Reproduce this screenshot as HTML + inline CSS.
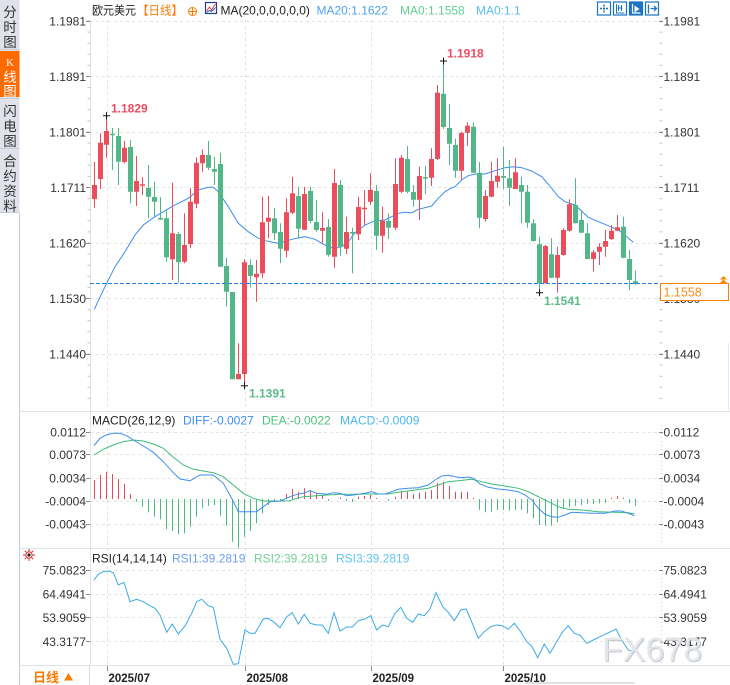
<!DOCTYPE html>
<html><head><meta charset="utf-8">
<style>
html,body{margin:0;padding:0;background:#fff;}
svg{display:block;}
text{font-family:"Liberation Sans","Noto Sans CJK SC",sans-serif;}
</style></head>
<body>
<svg width="730" height="685" viewBox="0 0 730 685" xmlns="http://www.w3.org/2000/svg">
<rect x="0" y="0" width="730" height="685" fill="#fff"/>

<!-- left sidebar -->
<rect x="0" y="0" width="19.5" height="213" fill="#dfe2ea"/>
<rect x="0" y="51" width="19.5" height="46" fill="#ff6a00"/>
<path d="M0 49.5H19.5M0 98.5H19.5M0 148.5H19.5M0 212.5H19.5" stroke="#c9cdd6" stroke-width="1"/>
<g font-size="13.5" fill="#333" text-anchor="middle">
<text x="10" y="17">分</text><text x="10" y="32">时</text><text x="10" y="47">图</text>
<text x="10" y="116">闪</text><text x="10" y="131">电</text><text x="10" y="146">图</text>
<text x="10" y="166">合</text><text x="10" y="181">约</text><text x="10" y="196">资</text><text x="10" y="211">料</text>
</g>
<g fill="#fff" text-anchor="middle">
<text x="10" y="66" font-size="11" style="font-family:'Liberation Serif',serif">K</text>
<text x="10" y="82" font-size="13.5">线</text><text x="10" y="96" font-size="13.5">图</text>
</g>
<path d="M19.5 213V685" stroke="#c9ccd2" stroke-width="1"/>

<!-- panel separators -->
<path d="M20 411.5H730M20 548.5H730M20 665.5H730" stroke="#dfe4ea" stroke-width="1"/>
<path d="M728.5 343V410" stroke="#e3e8ef" stroke-width="1"/>

<!-- grid: horizontal dotted -->
<g stroke="#e3e3e3" stroke-width="1" stroke-dasharray="3,3" fill="none">
<path d="M90 21.5H661M90 76.5H661M90 132.5H661M90 187.5H661M90 243.5H661M90 298.5H661M90 354.5H661"/>
<path d="M90 432.5H661M90 454.5H661M90 478.5H661M90 501.5H661M90 524.5H661"/>
<path d="M90 570.5H661M90 594.5H661M90 617.5H661M90 641.5H661"/>
<path d="M107.5 20V665M245.5 20V665M371.5 20V665M503.5 20V665"/>
</g>

<!-- left axis -->
<path d="M90.5 20V665" stroke="#e2e2e2" stroke-width="1"/>
<path d="M89 20.5V400" stroke="#c4c4c4" stroke-width="3" stroke-dasharray="1,10.1"/>
<g stroke="#888" stroke-width="1">
<path d="M86 21.5h4M86 76.5h4M86 132.5h4M86 187.5h4M86 243.5h4M86 298.5h4M86 354.5h4"/>
<path d="M86 432.5h4M86 454.5h4M86 478.5h4M86 501.5h4M86 524.5h4"/>
<path d="M86 570.5h4M86 594.5h4M86 617.5h4M86 641.5h4"/>
</g>
<!-- right axis -->
<path d="M661 20.5V400" stroke="#c4c4c4" stroke-width="3" stroke-dasharray="1,10.1"/>
<path d="M661.5 425V545M661.5 562V665" stroke="#c8c8c8" stroke-width="1" stroke-dasharray="1,3"/>
<g stroke="#888" stroke-width="1">
<path d="M659 21.5h4M659 76.5h4M659 132.5h4M659 187.5h4M659 243.5h4M659 298.5h4M659 354.5h4"/>
<path d="M659 432.5h4M659 454.5h4M659 478.5h4M659 501.5h4M659 524.5h4"/>
<path d="M659 570.5h4M659 594.5h4M659 617.5h4M659 641.5h4"/>
</g>

<!-- axis labels -->
<g font-size="12" fill="#333" text-anchor="end">
<text x="86" y="25.5">1.1981</text><text x="86" y="80.8">1.1891</text><text x="86" y="136.3">1.1801</text>
<text x="86" y="191.8">1.1711</text><text x="86" y="247.3">1.1620</text><text x="86" y="302.8">1.1530</text>
<text x="86" y="358.3">1.1440</text>
<text x="86" y="436.6">0.0112</text><text x="86" y="459">0.0073</text><text x="86" y="482.6">0.0034</text>
<text x="86" y="505.5">-0.0004</text><text x="86" y="528.6">-0.0043</text>
<text x="86" y="574.3">75.0823</text><text x="86" y="598.3">64.4941</text><text x="86" y="622">53.9059</text>
<text x="86" y="646">43.3177</text>
</g>
<g font-size="12" fill="#333">
<text x="663.5" y="25.5">1.1981</text><text x="663.5" y="80.8">1.1891</text><text x="663.5" y="136.3">1.1801</text>
<text x="663.5" y="191.8">1.1711</text><text x="663.5" y="247.3">1.1620</text><text x="663.5" y="302.8">1.1530</text>
<text x="663.5" y="358.3">1.1440</text>
<text x="663.5" y="436.6">0.0112</text><text x="663.5" y="459">0.0073</text><text x="663.5" y="482.6">0.0034</text>
<text x="663.5" y="505.5">-0.0004</text><text x="663.5" y="528.6">-0.0043</text>
<text x="663.5" y="574.3">75.0823</text><text x="663.5" y="598.3">64.4941</text><text x="663.5" y="622">53.9059</text>
<text x="663.5" y="646">43.3177</text>
</g>

<!-- header -->
<text x="92" y="14.5" font-size="12" fill="#222" textLength="44" lengthAdjust="spacingAndGlyphs">欧元美元</text>
<text x="137" y="14.5" font-size="12" fill="#ff7a00" textLength="46" lengthAdjust="spacingAndGlyphs">【日线】</text>
<circle cx="192.5" cy="11.5" r="4" fill="none" stroke="#ff7a00" stroke-width="1"/>
<path d="M188.5 11.5h8M192.5 7.5v8" stroke="#ff7a00" stroke-width="1"/>
<rect x="205.5" y="2.5" width="11" height="11" fill="#fff" stroke="#1f3f8f" stroke-width="1.2"/>
<path d="M206.5 11l3-4 2 3 4-6" stroke="#e23b3b" fill="none" stroke-width="1"/>
<path d="M206.5 12.5l3-2 2 1 4-4" stroke="#2a5fd0" fill="none" stroke-width="1"/>
<g font-size="12">
<text x="220.5" y="14.5" fill="#222">MA(20,0,0,0,0,0)</text>
<text x="316.5" y="14.5" fill="#4ea3f2">MA20:1.1622</text>
<text x="400" y="14.5" fill="#62cf95">MA0:1.1558</text>
<text x="476" y="14.5" fill="#58bff0">MA0:1.1</text>
</g>
<!-- toolbar icons -->
<g stroke="#1b74c5" stroke-width="1.2" fill="#fff">
<rect x="597.5" y="2" width="13" height="13"/>
<rect x="613.5" y="2" width="13" height="13"/>
<rect x="629.5" y="2" width="13" height="13" fill="#1b74c5"/>
<rect x="645.5" y="2" width="13" height="13"/>
</g>
<path d="M604 4.5v2M604 10.5v2M600 8.5h2M606 8.5h2" stroke="#1b74c5" stroke-width="1.5"/>
<rect x="603" y="7.5" width="2" height="2" fill="#1b74c5"/>
<path d="M616.5 4v9h8M618.5 5v6M621.5 5v6M617.5 8h5" stroke="#1b74c5" stroke-width="1" fill="none"/>
<path d="M632.5 4v9h8" stroke="#fff" stroke-width="1.2" fill="none"/>
<path d="M634.5 5.5l5 3.5-5 3.5z" fill="#fff"/>
<path d="M648.5 4.5v9M650.5 8.5h6M654 6l2.5 2.5-2.5 2.5" stroke="#1b74c5" stroke-width="1.3" fill="none"/>

<!-- MA20 -->
<polyline fill="none" stroke="#3a8ef0" stroke-width="1" points="94.3,309.3 105,286.7 115,266.7 125,251.7 135,235 143.3,225 155,216.7 171.7,206.7 188.3,198.3 198.3,190 208.3,187.3 213.3,187.3 218.3,191.7 228.3,206.7 238.3,223.3 248.3,231.7 258.3,238.3 265,240.7 278.3,243.3 291.7,239.3 305,236.7 315,239.3 325,245 333.3,248.3 341.7,246.7 348.3,241.7 355,232.7 365,225 375,220.7 385,220 398.3,213.3 405,212.3 411.7,212.7 418.3,209.3 431.7,206 438.3,198.3 445,191.7 451.7,187.7 455,186.7 461.7,180 468.3,175.7 475,174 485,174 495,170.7 505,167.7 513.3,166.7 521.7,167.7 531.7,171 541.7,176.7 551.7,188.3 558.3,196.7 565,201.7 575,205 588.3,217.3 598.3,221.7 608.3,225.7 618.3,230 626.7,236.7 633.3,242.3"/>

<!-- candles red -->
<path stroke="#ea4d5c" stroke-width="1" fill="none" d="M94.5 161.7V207.7M100.5 133.3V189M106.5 115.7V157.7M124.5 140.7V163.3M136.5 156V206M142.5 177.3V195M172.5 182.7V280M184.5 213.3V263.3M190.5 188.3V248.3M196.5 157.3V208.3M202.5 149.3V171.7M238.5 343.3V379.3M244.5 259.3V385.7M256.5 260V301.7M262.5 196.7V278.3M268.5 196V238.3M286.5 198.3V257.3M292.5 176.7V214.3M304.5 186.7V230M322.5 212.3V243.3M334.5 169V267.7M346.5 216.7V254M358.5 196.7V240M364.5 190V225M370.5 173.3V205M382.5 206.7V252.7M395.5 158.3V230M401.5 155V193.3M419.5 166.7V220M431.5 148.3V186M437.5 85V160M461.5 131.7V180M467.5 122.3V146M485.5 190V221.7M491.5 161.7V197.3M497.5 158.3V187.7M515.5 158.3V189M545.5 245V283.3M557.5 246.7V292.7M563.5 228.3V255.7M569.5 199.3V231.7M593.5 250V271.7M599.5 243.3V265M605.5 230V256.7M611.5 225V240M617.5 215V231"/>
<path fill="#ea4d5c" d="M92 185h5v14h-5zM98 142.7h5v36.3h-5zM104 131h5v13.7h-5zM122 147.7h5v14.3h-5zM134 181h5v10.7h-5zM140 184.3h5v1.5h-5zM170 233.3h5v26h-5zM182 245h5v16.7h-5zM188 201.7h5v42.3h-5zM194 162.7h5v41h-5zM200 155h5v8.3h-5zM236 374h5v5.3h-5zM242 262.3h5v111.7h-5zM254 273.7h5v3.6h-5zM260 222.3h5v51h-5zM266 217.7h5v4h-5zM284 212.3h5v38.4h-5zM290 193.3h5v19.4h-5zM302 194h5v35.7h-5zM320 228h5v2.7h-5zM332 183h5v73.7h-5zM344 232h5v16.7h-5zM356 207h5v27.3h-5zM362 207.7h5v1.5h-5zM368 190h5v11.7h-5zM380 220.7h5v15h-5zM393 184h5v43.7h-5zM399 157.7h5v34h-5zM417 176h5v23.7h-5zM429 159h5v18.7h-5zM435 92.7h5v66.3h-5zM459 133h5v37.7h-5zM465 125.7h5v7h-5zM483 196h5v23h-5zM489 181h5v15.7h-5zM495 175.7h5v6h-5zM513 172.3h5v16.7h-5zM543 246h5v37.3h-5zM555 255h5v22.7h-5zM561 230h5v25h-5zM567 204.3h5v26.4h-5zM591 252.3h5v6.7h-5zM597 246.7h5v5h-5zM603 241h5v5.7h-5zM609 230.7h5v8.3h-5zM615 227.3h5v3.4h-5z"/>
<!-- candles green -->
<path stroke="#52b788" stroke-width="1" fill="none" d="M112.5 128V170M118.5 128V185M130.5 140V203.3M148.5 165V218.3M154.5 181.7V216.7M160.5 197.3V220M166.5 210V261.7M178.5 231.7V282.7M208.5 141V170M214.5 156.7V185M220.5 152.7V266.7M226.5 257.7V306.7M232.5 292V379.3M250.5 259.3V287.3M274.5 208.3V240M280.5 223.3V263.3M298.5 186.7V238.3M310.5 186.7V223.3M316.5 200V231.7M328.5 219V256.7M340.5 180V255.7M352.5 227.7V273.3M376.5 185V250M388.5 213.3V239M407.5 146V193.3M413.5 185V206.7M425.5 166V194.3M443.5 61V129M449.5 104V165M455.5 138.7V177.7M473.5 122.3V172.7M479.5 161.7V228.3M503.5 146.7V189M509.5 160V205.7M521.5 176.7V223.3M527.5 185V227.7M533.5 219.3V241.7M539.5 236.7V293.3M551.5 238.3V278.3M575.5 178.3V223.3M581.5 210.7V232.7M587.5 223.3V259M623.5 216.7V258.3M629.5 250V290M635.5 270.7V285"/>
<path fill="#52b788" d="M110 133.7h5v1.6h-5zM116 136h5v25.7h-5zM128 147h5v44.7h-5zM146 188h5v8.7h-5zM152 197h5v4.7h-5zM158 218h5v1.5h-5zM164 218.3h5v39h-5zM176 234h5v28.3h-5zM206 155h5v12.7h-5zM212 169h5v2.7h-5zM218 164h5v102.7h-5zM224 266h5v25.7h-5zM230 292h5v87.3h-5zM248 265h5v11h-5zM272 218.3h5v15h-5zM278 232h5v16.7h-5zM296 196h5v32.7h-5zM308 191h5v30h-5zM314 222h5v8h-5zM326 227h5v27.7h-5zM338 185h5v61.7h-5zM350 232h5v1.5h-5zM374 191h5v44.7h-5zM386 220.7h5v7h-5zM405 159h5v32.7h-5zM411 192h5v7.7h-5zM423 177h5v1.5h-5zM441 93.7h5v33.3h-5zM447 128h5v15.7h-5zM453 145h5v25.7h-5zM471 126.7h5v46h-5zM477 172.7h5v45h-5zM501 176h5v1.7h-5zM507 178.3h5v9.4h-5zM519 185h5v6.7h-5zM525 191.7h5v31h-5zM531 223.3h5v17.7h-5zM537 244.3h5v39h-5zM549 254.3h5v23.4h-5zM573 205h5v18.3h-5zM579 220h5v12.7h-5zM585 233.3h5v25.7h-5zM621 226.7h5v31h-5zM627 259h5v21h-5zM633 281.3h5v2.7h-5z"/>

<!-- current price dashed line -->
<path d="M90 283.5H660" stroke="#2a7de1" stroke-width="1" stroke-dasharray="4,2"/>

<!-- extreme markers -->
<path d="M103 115.7h7M106.5 112.2v7M440 61h7M443.5 57.5v7M241 385.7h7M244.5 382.2v7M536 292.7h7M539.5 289.2v7" stroke="#111" stroke-width="1"/>
<g font-size="12" font-weight="bold">
<text x="111" y="112.5" fill="#ec4c5f">1.1829</text>
<text x="447" y="57.5" fill="#ec4c5f">1.1918</text>
<text x="249" y="397.5" fill="#5dbb8a">1.1391</text>
<text x="544" y="305" fill="#5dbb8a">1.1541</text>
</g>

<!-- right price tag -->
<rect x="660.5" y="283.5" width="68" height="17" fill="#fff" stroke="#ff8000" stroke-width="1"/>
<text x="663.5" y="296.5" font-size="12.5" fill="#ff8c1a">1.1558</text>
<path d="M720 279.5l3.5-3.5 3.5 3.5zM720 283l3.5-3.5 3.5 3.5z" fill="#ff8000"/>

<!-- MACD title -->
<g font-size="12">
<text x="92" y="424.5" fill="#222">MACD(26,12,9)</text>
<text x="183" y="424.5" fill="#3d8ef0">DIFF:-0.0027</text>
<text x="262" y="424.5" fill="#4cc37f">DEA:-0.0022</text>
<text x="340" y="424.5" fill="#4ab8f0">MACD:-0.0009</text>
</g>
<!-- MACD histogram -->
<path stroke="#e84a5a" stroke-width="1" fill="none" d="M94.5 499V480M100.5 499V475M106.5 499V471.7M112.5 499V474M118.5 499V479M124.5 499V484M130.5 499V494M286.5 499V494M292.5 499V489M298.5 499V491.7M304.5 499V488.3M310.5 499V490M316.5 499V493.3M322.5 499V495M340.5 499V497.5M358.5 499V496.7M364.5 499V496M370.5 499V495M376.5 499V498M395.5 499V496.7M401.5 499V490.7M407.5 499V491.7M413.5 499V494.3M419.5 499V492.7M425.5 499V491.7M431.5 499V490M437.5 499V482.7M443.5 499V481.7M449.5 499V486M455.5 499V491.7M461.5 499V491.7M467.5 499V491.7M473.5 499V498M611.5 499V497.7M617.5 499V496M623.5 499V497.7"/>
<path stroke="#4cb883" stroke-width="1" fill="none" d="M136.5 499V501.7M142.5 499V506.7M148.5 499V512.3M154.5 499V516.7M160.5 499V519.3M166.5 499V529.3M172.5 499V531M178.5 499V534.3M184.5 499V533.3M190.5 499V526.7M196.5 499V516.7M202.5 499V508.3M208.5 499V505.7M214.5 499V505M220.5 499V515.7M226.5 499V525.7M232.5 499V541.7M238.5 499V547.7M244.5 499V536.7M250.5 499V531M256.5 499V523.3M262.5 499V513.3M268.5 499V505M274.5 499V501.7M280.5 499V500.5M328.5 499V500.7M346.5 499V501M352.5 499V502M388.5 499V500.7M479.5 499V510M485.5 499V512.3M491.5 499V511.7M497.5 499V510M503.5 499V510M509.5 499V510.7M515.5 499V510M521.5 499V510M527.5 499V513.3M533.5 499V518.3M539.5 499V525M545.5 499V525.7M551.5 499V525.7M557.5 499V522.3M563.5 499V509M569.5 499V507.3M575.5 499V505.7M581.5 499V505M587.5 499V504.3M593.5 499V504M599.5 499V503.3M605.5 499V502.7M629.5 499V503.3M635.5 499V506"/>
<!-- DEA -->
<polyline fill="none" stroke="#3dbb7a" stroke-width="1" points="94,455 103.3,449.3 113.3,445 123.3,441.7 133.3,440 143.3,441 153.3,444 163.3,448.3 173.3,457.3 183.3,465 193.3,469.3 203.3,471 213.3,472.7 223.3,476.7 233.3,485 243.3,493.3 253.3,498.3 263.3,501 280,501 290,500.7 296.7,498.3 303.3,496.7 313.3,496 326.7,495 340,494.3 353.3,494.3 365,494 378.3,494 388.3,494 398.3,492.3 415,490 428.3,488.3 438.3,485 448.3,481.7 458.3,480.7 471.7,479.3 481.7,481.7 491.7,484 505,486 518.3,488.3 528.3,491.7 538.3,496.7 548.3,501.7 558.3,506.7 568.3,509.3 581.7,510 598.3,511.7 615,512.3 628.3,512.7 634.3,514"/>
<!-- DIFF -->
<polyline fill="none" stroke="#3b8ef0" stroke-width="1" points="94,445.7 100,438.3 106.7,434.7 113.3,433.3 120,433.3 126.7,435.7 133.3,440 143.3,446 153.3,452.3 163.3,461.7 173.3,472.7 180,479 190,480.7 200,475 213.3,475 223.3,483.3 231.7,498.3 238.3,511.7 256.7,511.7 263.3,506.7 270,501.7 280,501 290,496.7 296.7,494.3 303.3,493.3 310,490.7 316.7,493.3 326.7,494.3 333.3,492.7 340,493.3 346.7,495.7 353.3,495 365,493.3 371.7,491.7 378.3,494 385,494 391.7,491.7 398.3,489.3 408.3,488.3 418.3,487.7 428.3,485 435,480 441.7,476 448.3,475.3 455,476.7 461.7,477.7 468.3,477 473.3,478.3 480,484 488.3,487.3 498.3,489 508.3,490 518.3,491.7 525,495 531.7,500 538.3,508.3 545,514.3 551.7,516.7 558.3,517.3 565,515 571.7,512.3 581.7,512.7 591.7,513.3 605,513.3 615,511 621.7,511 628.3,513.3 634.3,515.7"/>

<!-- RSI icon -->
<g transform="translate(29,555)">
<path d="M0 -6V-4M0 4V6M-6 0H-4M4 0H6M-4.2 -4.2l1.4 1.4M2.8 2.8l1.4 1.4M4.2 -4.2l-1.4 1.4M-2.8 2.8l-1.4 1.4" stroke="#e02020" stroke-width="1"/>
<circle r="3.2" fill="#fff" stroke="#e02020" stroke-width="1"/>
<circle r="1.6" fill="#222"/>
</g>
<!-- RSI title -->
<g font-size="12">
<text x="92" y="562.5" fill="#222">RSI(14,14,14)</text>
<text x="172" y="562.5" fill="#6aa0f5">RSI1:39.2819</text>
<text x="254" y="562.5" fill="#72d096">RSI2:39.2819</text>
<text x="336" y="562.5" fill="#5ec5f2">RSI3:39.2819</text>
</g>
<!-- RSI line -->
<polyline fill="none" stroke="#3aaae6" stroke-width="1" points="94,580 98.3,574.3 103.3,571.7 108.3,571 113.3,572.7 118.3,585 124,582.3 130,601.7 136.7,599.3 143.3,601.7 150,605.7 155,608.3 160,615 166.7,632.3 172.3,624 178.3,634 185,626 191.7,613.3 196.7,601.7 201.7,599.3 208.3,605.7 213.3,607.3 220,639.3 226.7,648.3 233.3,664.3 238.3,663.7 245,630 250,633.3 255,633.3 263.3,619 268.3,618.3 273.3,621.7 280,627.7 286.7,616.7 292.3,612.7 298.3,624 304.3,614.3 310,623.3 316.7,625 322.3,625 328.3,633.3 334,612.7 340,631 346.7,627 352.3,627 358.3,620.7 365,619 370.7,615.7 376.7,630 382.7,625 388.3,626.7 395,613.3 400.7,607.3 406.7,618.3 412.7,622.3 418.3,614 424.3,615.7 430,609 436,592.7 442.7,606.7 448.3,612.3 454.3,620.7 460.7,610 466.3,609 472.3,623.3 478.3,638.3 484.3,631.7 490.7,626.7 496.7,625 502.3,625.7 508.3,629.3 514.3,623.3 520.7,631.7 526.7,641.7 531.7,646 537.7,657.7 544.3,644 550,653.3 556.7,641.7 562.7,631.7 568.3,625.7 574.3,633.3 580,635 586.7,643.3 593.3,640 600,636.7 605,634.3 610.7,631.7 616,629 621.7,640 628.3,650 634.3,651.7"/>

<!-- watermark -->
<text x="603" y="662" font-size="34" fill="#b9bec6" opacity="0.8">FX678</text>
<text x="602" y="661" font-size="34" fill="#e6e8ec" opacity="0.9">FX678</text>

<!-- bottom axis -->
<path d="M89.5 665V685" stroke="#d6dbe2" stroke-width="1"/>
<text x="33" y="682" font-size="13" font-weight="bold" fill="#ff7a00">日线</text>
<path d="M64 680.5l4.5-7.5 4.5 7.5z" fill="#ff7a00"/>
<path d="M107.5 666V671M245.5 666V671M371.5 666V671M503.5 666V671" stroke="#888" stroke-width="1"/>
<g font-size="11.5" font-weight="bold" fill="#222">
<text x="108.5" y="682">2025/07</text>
<text x="246.5" y="682">2025/08</text>
<text x="372.5" y="682">2025/09</text>
<text x="504.5" y="682">2025/10</text>
</g>
<rect x="525" y="682" width="110" height="2" fill="#e2e2e2"/>
</svg>
</body></html>
